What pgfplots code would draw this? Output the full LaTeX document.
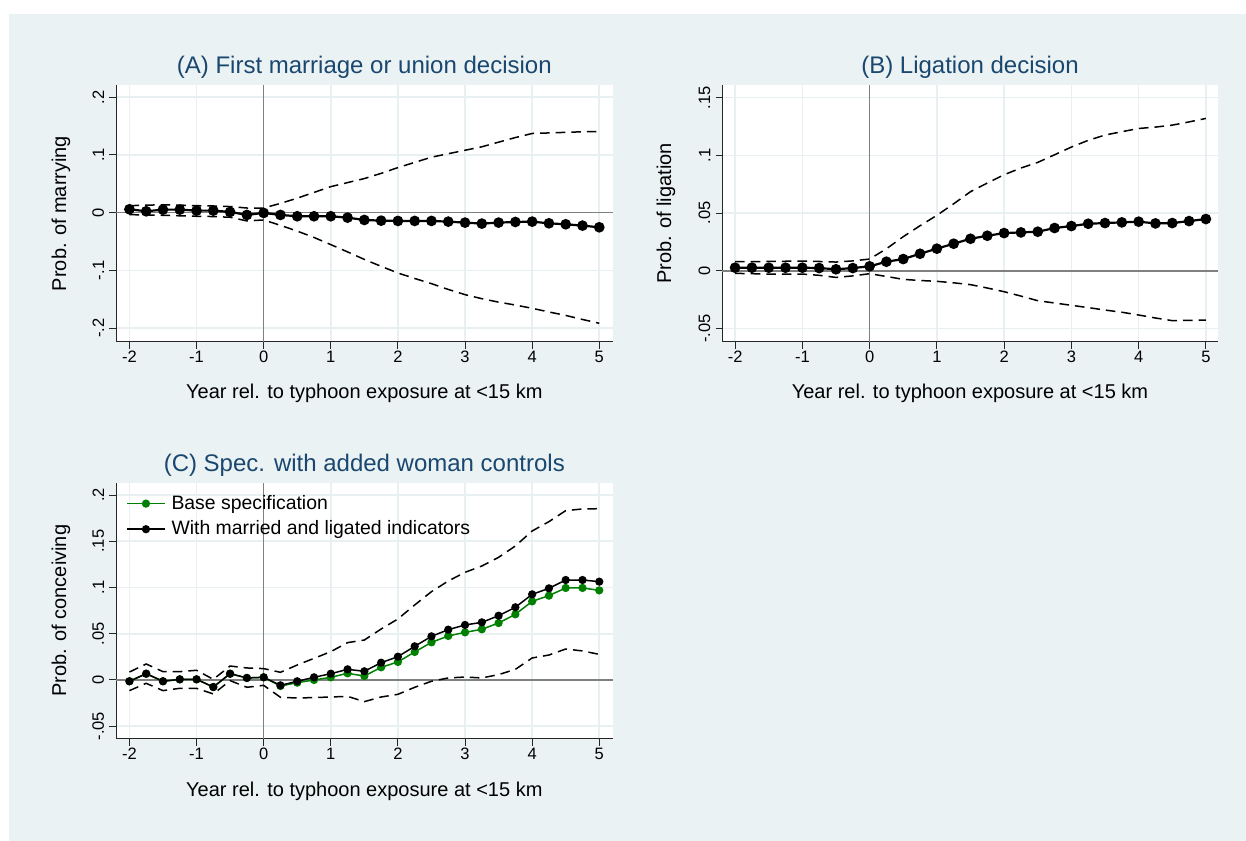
\documentclass[border=0pt]{standalone}
\usepackage{pgfplots}
\pgfplotsset{compat=1.18}
\usepackage{pgfplotstable}
\usepackage{fontspec}
\setmainfont{Liberation Sans}
\definecolor{bgc}{RGB}{234,242,243}
\definecolor{gridc}{RGB}{232,240,242}
\definecolor{titc}{RGB}{26,71,111}
\definecolor{refc}{RGB}{128,128,128}
\definecolor{stgreen}{RGB}{0,128,0}

\pgfplotstableread{
x est lo hi
-2 0.0058 -0.0035 0.012
-1.75 0.0023 -0.004 0.013
-1.5 0.0052 -0.0046 0.0135
-1.25 0.0052 -0.0055 0.013
-1 0.0035 -0.0063 0.012
-0.75 0.0035 -0.0068 0.0115
-0.5 0.0012 -0.008 0.0105
-0.25 -0.004 -0.0144 0.008
0 -0.0005 -0.0127 0.008
0.25 -0.004 -0.022 0.016
0.5 -0.0063 -0.032 0.025
0.75 -0.0063 -0.043 0.035
1 -0.0063 -0.0554 0.045
1.25 -0.0087 -0.068 0.052
1.5 -0.0127 -0.081 0.059
1.75 -0.0139 -0.093 0.068
2 -0.0144 -0.1045 0.078
2.25 -0.0144 -0.114 0.087
2.5 -0.0144 -0.123 0.096
2.75 -0.0156 -0.133 0.102
3 -0.0173 -0.142 0.108
3.25 -0.019 -0.149 0.114
3.5 -0.0173 -0.155 0.122
3.75 -0.0162 -0.160 0.130
4 -0.0156 -0.1657 0.137
4.25 -0.0185 -0.172 0.138
4.5 -0.0202 -0.178 0.139
4.75 -0.0225 -0.185 0.140
5 -0.0254 -0.1916 0.1405
}\tabA

\pgfplotstableread{
x est lo hi
-2 0.0026 -0.0023 0.0078
-1.75 0.0026 -0.0026 0.0079
-1.5 0.0026 -0.0029 0.0080
-1.25 0.0026 -0.0029 0.0082
-1 0.0026 -0.0029 0.0084
-0.75 0.0023 -0.0040 0.0080
-0.5 0.0012 -0.0058 0.0075
-0.25 0.0023 -0.0045 0.0085
0 0.0038 -0.0026 0.0101
0.25 0.0078 -0.0050 0.019
0.5 0.0101 -0.0075 0.0295
0.75 0.0147 -0.0085 0.039
1 0.0191 -0.0092 0.048
1.25 0.0234 -0.0105 0.058
1.5 0.0277 -0.0121 0.0685
1.75 0.0303 -0.0150 0.076
2 0.0326 -0.0182 0.0832
2.25 0.0332 -0.0220 0.089
2.5 0.0338 -0.0260 0.0939
2.75 0.0370 -0.0280 0.1005
3 0.0387 -0.0300 0.1072
3.25 0.0407 -0.0320 0.113
3.5 0.0413 -0.0341 0.1176
3.75 0.0419 -0.0360 0.1205
4 0.0425 -0.0384 0.1233
4.25 0.0410 -0.0410 0.1245
4.5 0.0413 -0.0433 0.1262
4.75 0.0430 -0.0430 0.129
5 0.0448 -0.0428 0.132
}\tabB

\pgfplotstableread{
x est base lo hi
-2 -0.0014 -0.0014 -0.0115 0.0086
-1.75 0.0068 0.0068 -0.0036 0.0173
-1.5 -0.0014 -0.0014 -0.0115 0.0090
-1.25 0.0007 0.0007 -0.0090 0.0090
-1 0.0007 0.0007 -0.0090 0.0105
-0.75 -0.0076 -0.0076 -0.0151 0.0007
-0.5 0.0068 0.0068 -0.0007 0.0151
-0.25 0.0022 0.0022 -0.0079 0.0130
0 0.0029 0.0029 -0.0058 0.0123
0.25 -0.0058 -0.0065 -0.0187 0.0083
0.5 -0.0014 -0.0029 -0.0195 0.0162
0.75 0.0029 0.0000 -0.0190 0.0234
1 0.0068 0.0029 -0.0184 0.0306
1.25 0.0115 0.0072 -0.0177 0.0404
1.5 0.0094 0.0043 -0.0234 0.0432
1.75 0.0187 0.0137 -0.0184 0.0551
2 0.0252 0.0195 -0.0155 0.0660
2.25 0.0364 0.0303 -0.0079 0.0811
2.5 0.0472 0.0407 -0.0014 0.0955
2.75 0.0544 0.0476 0.0022 0.1070
3 0.0595 0.0515 0.0032 0.1164
3.25 0.0623 0.0548 0.0022 0.1232
3.5 0.0695 0.0616 0.0058 0.1326
3.75 0.0786 0.0710 0.0115 0.1449
4 0.0926 0.0850 0.0238 0.1611
4.25 0.0991 0.0912 0.0270 0.1712
4.5 0.1081 0.0995 0.0335 0.1831
4.75 0.1081 0.0995 0.0314 0.1849
5 0.1063 0.0969 0.0277 0.1852
}\tabC

\pgfplotsset{
  stpanel/.style={
    scale only axis,
    anchor=south west,
    axis lines*=left,
    axis line style={black!85, line width=0.5pt},
    axis background/.style={fill=white},
    grid=major,
    major grid style={gridc, line width=0.8pt},
    tick align=outside,
    major tick length=3.3pt,
    tick style={black!85, line width=0.5pt},
    xtick={-2,-1,0,1,2,3,4,5},
    xticklabels={-2,-1,0,1,2,3,4,5},
    xticklabel style={font=\fontsize{8.25}{9}\selectfont, inner sep=0pt, anchor=north},
    yticklabel style={font=\fontsize{8.25}{9}\selectfont, inner sep=0pt, rotate=90, anchor=south},
    xticklabel shift=1pt,
    yticklabel shift=2.5pt,
    clip=false,
  },
  ci/.style={black, line width=0.75pt, dash pattern=on 4.8pt off 3pt, no marks, forget plot},
  refl/.style={refc, line width=0.8pt, no marks, forget plot},
}

\begin{document}
\begin{tikzpicture}
\useasboundingbox (0pt,0pt) rectangle (623pt,420pt);
\fill[white] (-5pt,-5pt) rectangle (630pt,425pt);
\fill[bgc] (4.5pt,-5pt) rectangle (630pt,413pt);

% Panel A
\begin{axis}[stpanel, at={(58pt,249pt)}, width=248.35pt, height=128.5pt,
  xmin=-2.2, xmax=5.2, ymin=-0.224, ymax=0.221,
  ytick={-0.2,-0.1,0,0.1,0.2}, yticklabels={-.2,-.1,0,.1,.2}]
\addplot[refl] coordinates {(-2.2,0) (5.2,0)};
\addplot[refl] coordinates {(0,-0.224) (0,0.221)};
\addplot[ci] table[x=x,y=lo] {\tabA};
\addplot[ci] table[x=x,y=hi] {\tabA};
\addplot[black, line width=1.1pt, mark=*, mark size=2.1pt, mark options={solid, fill=black}] table[x=x,y=est] {\tabA};
\end{axis}

% Panel B
\begin{axis}[stpanel, at={(361.15pt,249pt)}, width=247.85pt, height=128.5pt,
  xmin=-2.19, xmax=5.18, ymin=-0.0618, ymax=0.161,
  ytick={-0.05,0,0.05,0.1,0.15}, yticklabels={-.05,0,.05,.1,.15}]
\addplot[refl] coordinates {(-2.19,0) (5.18,0)};
\addplot[refl] coordinates {(0,-0.0618) (0,0.161)};
\addplot[ci] table[x=x,y=lo] {\tabB};
\addplot[ci] table[x=x,y=hi] {\tabB};
\addplot[black, line width=1.1pt, mark=*, mark size=2.1pt, mark options={solid, fill=black}] table[x=x,y=est] {\tabB};
\end{axis}

% Panel C
\begin{axis}[stpanel, at={(58pt,50.5pt)}, width=248.35pt, height=128.15pt,
  xmin=-2.2, xmax=5.2, ymin=-0.0638, ymax=0.2133,
  ytick={-0.05,0,0.05,0.1,0.15,0.2}, yticklabels={-.05,0,.05,.1,.15,.2},
  legend cell align=left,
  legend image code/.code={\draw[mark repeat=2,mark phase=2,#1] plot coordinates {(0pt,0pt) (9.4pt,0pt) (18.8pt,0pt)};},
  legend style={at={(axis description cs:0,1)}, anchor=north west, draw=none, fill=none,
    font=\fontsize{9.7}{11}\selectfont, xshift=2pt, yshift=-3pt,
    nodes={inner xsep=0pt, inner ysep=0pt, text height=0.8em, text depth=0.25em},
    row sep=2.3pt, column sep=3pt}]
\addplot[refl] coordinates {(-2.2,0) (5.2,0)};
\addplot[refl] coordinates {(0,-0.0638) (0,0.2133)};
\addplot[ci] table[x=x,y=lo] {\tabC};
\addplot[ci] table[x=x,y=hi] {\tabC};
\addplot[stgreen, line width=0.75pt, mark=*, mark size=1.67pt, mark options={solid, fill=stgreen}] table[x=x,y=base] {\tabC};
\addlegendentry{Base specification}
\addplot[black, line width=0.75pt, mark=*, mark size=1.67pt, mark options={solid, fill=black}] table[x=x,y=est] {\tabC};
\addlegendentry{With married and ligated indicators}
\end{axis}

% Titles
\begin{scope}[every node/.style={font=\fontsize{12}{14}\selectfont, text=titc, inner sep=0pt, anchor=base}]
\node at (182.15pt,383pt) {(A) First marriage or union decision};
\node at (485pt,383pt) {(B) Ligation decision};
\node at (182.15pt,184.15pt) {(C) Spec. with added woman controls};
\end{scope}
% Axis labels
\begin{scope}[every node/.style={font=\fontsize{10}{12}\selectfont, inner sep=0pt, anchor=base}]
\node at (182.15pt,220.5pt) {Year rel. to typhoon exposure at <15 km};
\node at (485pt,220.5pt) {Year rel. to typhoon exposure at <15 km};
\node at (182.15pt,22pt) {Year rel. to typhoon exposure at <15 km};
\node[rotate=90] at (33pt,313.25pt) {Prob. of marrying};
\node[rotate=90] at (335.5pt,313.25pt) {Prob. of ligation};
\node[rotate=90] at (33pt,114.6pt) {Prob. of conceiving};
\end{scope}
\end{tikzpicture}
\end{document}
